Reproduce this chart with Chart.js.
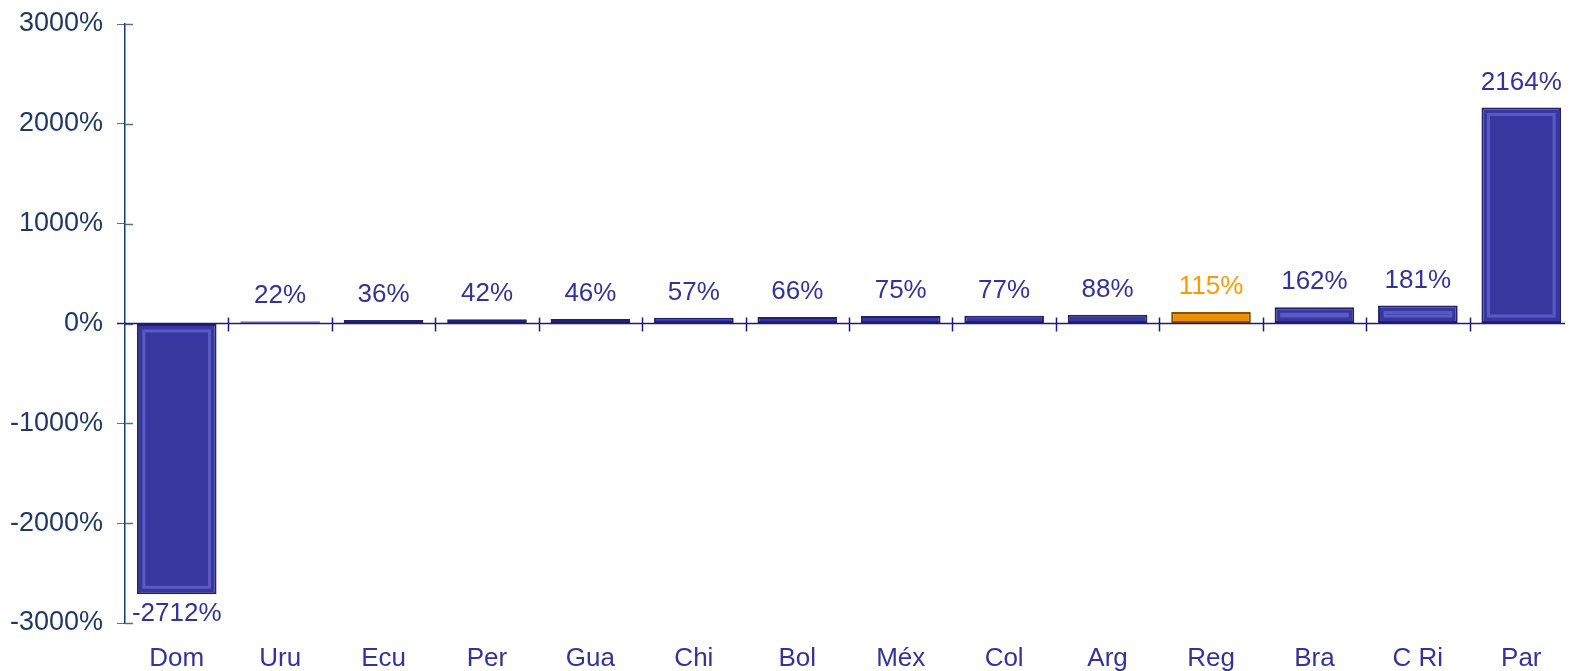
<!DOCTYPE html>
<html>
<head>
<meta charset="utf-8">
<script src="https://cdn.jsdelivr.net/npm/chart.js@4"></script>
<style>
  html, body { margin: 0; padding: 0; background: #fff; overflow: hidden; }
  #wrap { width: 1573px; height: 671px; position: relative; }
  canvas { display: block; }
</style>
</head>
<body>
<div id="wrap"><canvas id="chart"></canvas></div>
<script>
const categories = ['Dom', 'Uru', 'Ecu', 'Per', 'Gua', 'Chi', 'Bol', 'Méx', 'Col', 'Arg', 'Reg', 'Bra', 'C Ri', 'Par'];
const values = [-2712, 22, 36, 42, 46, 57, 66, 75, 77, 88, 115, 162, 181, 2164];
const yTicks = [-3000, -2000, -1000, 0, 1000, 2000, 3000];

const BLUE = '#37379f';
const BLUE_EDGE = '#22226a';
const ORANGE = '#e8900a';
const ORANGE_EDGE = '#8a5200';
const TEXT_BLUE = '#333399';
const AXIS_NAVY = '#1d3a66';
const FONT = '"Liberation Sans", Arial, sans-serif';

const fills = categories.map(c => c === 'Reg' ? ORANGE : (c === 'Uru' ? '#8c8cc6' : BLUE));
const edges = categories.map(c => c === 'Reg' ? ORANGE_EDGE : (c === 'Uru' ? '#7a7ab8' : BLUE_EDGE));

// zero line with category separators, bevel highlight, value labels
const extras = {
  id: 'extras',
  afterDatasetsDraw(chart) {
    const ctx = chart.ctx;
    const x = chart.scales.x, y = chart.scales.y;
    const y0 = y.getPixelForValue(0);
    const meta = chart.getDatasetMeta(0);
    ctx.save();
    // bevel highlight
    meta.data.forEach((bar, i) => {
      const h = Math.abs(bar.base - bar.y);
      if (h < 14) return;
      const left = bar.x - bar.width / 2, top = Math.min(bar.y, bar.base);
      const inset = 7;
      ctx.strokeStyle = categories[i] === 'Reg' ? 'rgba(255,200,120,0.6)' : 'rgba(105,105,215,0.7)';
      ctx.lineWidth = 3;
      ctx.strokeRect(left + inset, top + inset, bar.width - inset * 2, h - inset * 2);
    });
    // y tick marks crossing the axis
    ctx.strokeStyle = '#5a6f8f';
    ctx.lineWidth = 1.5;
    yTicks.forEach(v => {
      const py = Math.round(y.getPixelForValue(v)) + 0.5;
      ctx.beginPath();
      ctx.moveTo(x.left, py);
      ctx.lineTo(x.left + 8, py);
      ctx.stroke();
    });
    // zero line
    ctx.strokeStyle = '#1a1a80';
    ctx.beginPath();
    ctx.moveTo(x.left - 8, y0);
    ctx.lineTo(x.right - 8, y0);
    ctx.stroke();
    // separators
    for (let i = 0; i < categories.length - 1; i++) {
      const px = Math.round((x.getPixelForValue(i) + x.getPixelForValue(i + 1)) / 2) + 0.5;
      ctx.beginPath();
      ctx.moveTo(px, y0 - 6);
      ctx.lineTo(px, y0 + 8);
      ctx.stroke();
    }
    // value labels
    ctx.font = '26px ' + FONT;
    ctx.textAlign = 'center';
    meta.data.forEach((bar, i) => {
      const v = values[i];
      ctx.fillStyle = categories[i] === 'Reg' ? '#ff9900' : TEXT_BLUE;
      if (v >= 0) {
        ctx.textBaseline = 'bottom';
        ctx.fillText(v + '%', bar.x, bar.y - 12);
      } else {
        ctx.textBaseline = 'top';
        ctx.fillText(v + '%', bar.x, bar.y + 7);
      }
    });
    ctx.restore();
  }
};

new Chart(document.getElementById('chart'), {
  type: 'bar',
  data: {
    labels: categories,
    datasets: [{
      data: values,
      backgroundColor: fills,
      borderColor: edges,
      borderWidth: 2,
      borderSkipped: false,
      categoryPercentage: 1,
      barPercentage: 0.77
    }]
  },
  options: {
    responsive: true,
    maintainAspectRatio: false,
    animation: false,
    layout: { padding: { top: 24, right: 0, left: 0, bottom: 0 } },
    plugins: {
      legend: { display: false },
      tooltip: { enabled: false }
    },
    scales: {
      x: {
        grid: { display: false },
        border: { display: false },
        ticks: {
          color: TEXT_BLUE,
          font: { family: FONT, size: 26 },
          maxRotation: 0,
          padding: 12
        },
        afterFit(scale) { scale.height = 48; }
      },
      y: {
        min: -3000,
        max: 3000,
        afterBuildTicks(scale) { scale.ticks = yTicks.map(v => ({ value: v })); },
        ticks: {
          color: AXIS_NAVY,
          font: { family: FONT, size: 27 },
          padding: 14,
          callback: v => v + '%'
        },
        grid: {
          drawOnChartArea: false,
          drawTicks: true,
          tickLength: 8,
          color: '#5a6f8f'
        },
        border: { color: AXIS_NAVY, width: 1.5 },
        afterFit(scale) {
          scale.width = 125;
          scale.paddingTop = 0;
          scale.paddingBottom = 0;
        }
      }
    }
  },
  plugins: [extras]
});
</script>
</body>
</html>
